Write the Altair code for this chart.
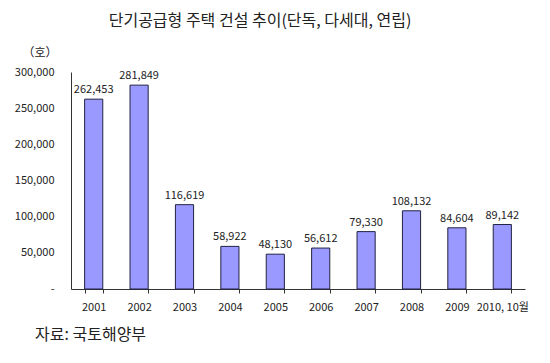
import altair as alt
import pandas as pd

years = ["2001", "2002", "2003", "2004", "2005", "2006", "2007", "2008", "2009", "2010, 10월"]
values = [262453, 281849, 116619, 58922, 48130, 56612, 79330, 108132, 84604, 89142]
title_text = "단기공급형 주택 건설 추이(단독, 다세대, 연립)"
unit_text = "（호）"
source_text = "자료: 국토해양부"

df = pd.DataFrame({"year": years, "value": values})
FONT = "Noto Sans CJK KR"

base = alt.Chart(df).encode(
    x=alt.X("year:N", sort=years, title=None,
            scale=alt.Scale(paddingInner=0.6, paddingOuter=0.3),
            axis=alt.Axis(labelAngle=0, tickBand="extent", tickSize=4, tickColor="#333333",
                          domainColor="#333333", labelFont=FONT, labelFontSize=11,
                          labelColor="#222222", labelPadding=8, labelOverlap=False)),
    y=alt.Y("value:Q", title=None,
            scale=alt.Scale(domain=[0, 300000]),
            axis=alt.Axis(values=[0, 50000, 100000, 150000, 200000, 250000, 300000],
                          labelExpr="datum.value == 0 ? '-' : format(datum.value, ',')",
                          ticks=False, grid=False, domainColor="#333333",
                          labelFont=FONT, labelFontSize=11, labelColor="#222222",
                          labelPadding=17, labelOverlap=False)),
)

bars = base.mark_bar(color="#9999ff", stroke="#222244", strokeWidth=1)

labels = base.mark_text(dy=-9, font=FONT, fontSize=11, color="#222222").encode(
    text=alt.Text("value:Q", format=","),
)

title = alt.Chart(pd.DataFrame({"t": [title_text]})).mark_text(
    font=FONT, fontSize=16, color="#222222", baseline="middle"
).encode(x=alt.value(189), y=alt.value(-51), text="t:N")

unit = alt.Chart(pd.DataFrame({"t": [unit_text]})).mark_text(
    font=FONT, fontSize=12, color="#222222", baseline="middle"
).encode(x=alt.value(-31), y=alt.value(-19), text="t:N")

source = alt.Chart(pd.DataFrame({"t": [source_text]})).mark_text(
    font=FONT, fontSize=16, color="#222222", baseline="middle", align="left"
).encode(x=alt.value(-36), y=alt.value(263), text="t:N")

chart = alt.layer(bars, labels, title, unit, source).properties(
    width=454, height=217,
    autosize=alt.AutoSizeParams(type="none"),
    padding={"left": 63, "top": 64, "right": 17, "bottom": 66},
    background="white",
).configure_view(stroke=None).configure_axis(labelOverlap=False)

chart.save("out.html", embed_options={"renderer": "svg", "actions": False})
